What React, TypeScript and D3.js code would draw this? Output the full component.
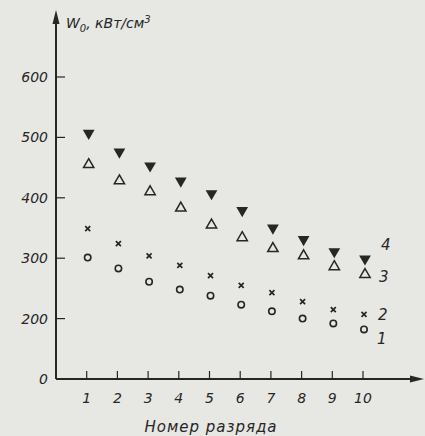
import React from "react";
import * as d3 from "d3";

const categories = [1, 2, 3, 4, 5, 6, 7, 8, 9, 10];
const series1 = [301, 283, 261, 248, 238, 223, 212, 200, 192, 182];
const series2 = [349, 324, 304, 288, 271, 255, 243, 228, 215, 207];
const series3 = [455, 428, 410, 383, 355, 334, 316, 304, 286, 273];
const series4 = [507, 476, 453, 428, 407, 379, 350, 331, 311, 299];
const yTicks = [200, 300, 400, 500, 600];
const seriesLabels = ["1", "2", "3", "4"];

const W = 425, H = 436;
const ink = "#262626";

export default function App() {
  const x = d3.scaleLinear().domain([0, 10]).range([56, 363]);
  // truncated axis: origin labelled 0 sits where 100 would be
  const y = d3.scaleLinear().domain([100, 600]).range([379, 77]);
  const font = "'DejaVu Sans', sans-serif";
  const tri = d3.symbol().type(d3.symbolTriangle).size(60)();
  const triOpen = d3.symbol().type(d3.symbolTriangle).size(46)();
  const last = categories.length - 1;
  return (
    <div style={{ position: "fixed", left: 0, top: 0, width: W, height: H }}>
      <svg width={W} height={H} style={{ display: "block" }}>
        <rect width={W} height={H} fill="#e7e7e3" />
        {/* axes */}
        <line x1={x(0)} y1={y(100)} x2={415} y2={y(100)} stroke={ink} strokeWidth={2} />
        <path d={`M424,${y(100)} L410,${y(100) - 3.5} L410,${y(100) + 3.5} Z`} fill={ink} />
        <line x1={x(0)} y1={y(100)} x2={x(0)} y2={18} stroke={ink} strokeWidth={2} />
        <path d={`M${x(0)},10 L${x(0) - 3.5},24 L${x(0) + 3.5},24 Z`} fill={ink} />
        {yTicks.map((t) => (
          <g key={t}>
            <line x1={x(0)} x2={x(0) + 9} y1={y(t)} y2={y(t)} stroke={ink} strokeWidth={1.2} />
            <text x={48} y={y(t) + 5} textAnchor="end" fontSize={14} fontStyle="italic" fontFamily={font} fill={ink}>{t}</text>
          </g>
        ))}
        <text x={48} y={y(100) + 5} textAnchor="end" fontSize={14} fontStyle="italic" fontFamily={font} fill={ink}>0</text>
        {categories.map((c) => (
          <g key={c}>
            <line x1={x(c)} x2={x(c)} y1={y(100)} y2={y(100) - 8} stroke={ink} strokeWidth={1.2} />
            <text x={x(c)} y={y(100) + 24} textAnchor="middle" fontSize={14} fontStyle="italic" fontFamily={font} fill={ink}>{c}</text>
          </g>
        ))}
        <text x={66} y={28} fontSize={14} fontStyle="italic" fontFamily={font} fill={ink}>
          W<tspan dy={4} fontSize={10}>0</tspan><tspan dy={-4}>, кВт/см</tspan><tspan dy={-5} fontSize={10}>3</tspan>
        </text>
        <text x={211} y={432} textAnchor="middle" fontSize={15} fontStyle="italic" fontFamily={font} fill={ink} letterSpacing={1}>Номер разряда</text>
        {/* series 1: circles */}
        {categories.map((c, i) => (
          <circle key={"a" + c} cx={x(c) + 1} cy={y(series1[i])} r={3.2} fill="none" stroke={ink} strokeWidth={1.6} />
        ))}
        {/* series 2: crosses */}
        {categories.map((c, i) => (
          <path key={"b" + c} transform={`translate(${x(c) + 1},${y(series2[i])})`} d="M-2.5,-2.5L2.5,2.5M-2.5,2.5L2.5,-2.5" stroke={ink} strokeWidth={1.7} />
        ))}
        {/* series 3: open triangles */}
        {categories.map((c, i) => (
          <path key={"c" + c} transform={`translate(${x(c) + 2},${y(series3[i])})`} d={triOpen ?? ""} fill="none" stroke={ink} strokeWidth={1.5} />
        ))}
        {/* series 4: filled down triangles */}
        {categories.map((c, i) => (
          <path key={"d" + c} transform={`translate(${x(c) + 2},${y(series4[i])}) rotate(180)`} d={tri ?? ""} fill={ink} />
        ))}
        <text x={x(categories[last]) + 14} y={y(series1[last]) + 15} fontSize={15} fontStyle="italic" fontFamily={font} fill={ink}>{seriesLabels[0]}</text>
        <text x={x(categories[last]) + 15} y={y(series2[last]) + 6} fontSize={15} fontStyle="italic" fontFamily={font} fill={ink}>{seriesLabels[1]}</text>
        <text x={x(categories[last]) + 16} y={y(series3[last]) + 7} fontSize={15} fontStyle="italic" fontFamily={font} fill={ink}>{seriesLabels[2]}</text>
        <text x={x(categories[last]) + 18} y={y(series4[last]) - 9} fontSize={15} fontStyle="italic" fontFamily={font} fill={ink}>{seriesLabels[3]}</text>
      </svg>
    </div>
  );
}
